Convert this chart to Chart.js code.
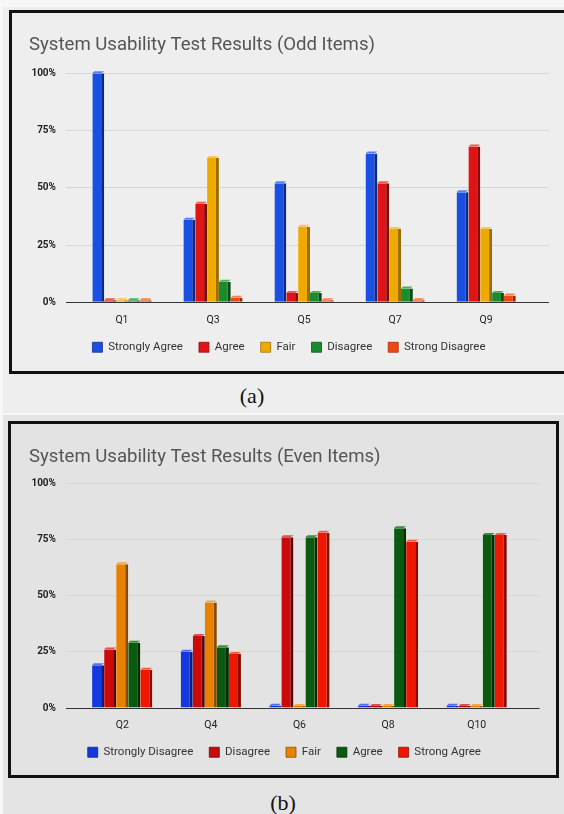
<!DOCTYPE html>
<html>
<head>
<meta charset="utf-8">
<script src="https://cdn.jsdelivr.net/npm/chart.js@4.4.1/dist/chart.umd.min.js"></script>
<style>
  body { margin:0; background:#f7f7f7; width:564px; height:814px; position:relative; overflow:hidden; }
  .panel { position:absolute; }
  .box { position:absolute; border:3px solid #111; box-sizing:border-box; }
  canvas { position:absolute; }
  .cap { position:absolute; font-family:'Liberation Serif', serif; font-size:22px; color:#111; transform:translate(-50%,-50%); }
</style>
</head>
<body>
<div class="panel" style="left:3px;top:7px;width:561px;height:406px;background:#eeeeee"></div>
<div class="box" style="left:9px;top:10px;width:600px;height:364px;background:#eeeeee"></div>
<canvas id="oddChart" width="552" height="350" style="left:12px;top:13px"></canvas>
<div class="cap" style="left:252px;top:396px">(a)</div>

<div class="panel" style="left:3px;top:415px;width:561px;height:399px;background:#e4e4e4"></div>
<div class="box" style="left:8px;top:421px;width:551px;height:357px;background:#e3e3e3"></div>
<canvas id="evenChart" width="545" height="344" style="left:11px;top:424px"></canvas>
<div class="cap" style="left:283px;top:803px">(b)</div>

<script>
// Odd items (a)
const oddLabels = ['Q1', 'Q3', 'Q5', 'Q7', 'Q9'];
const oddSeries = ['Strongly Agree', 'Agree', 'Fair', 'Disagree', 'Strong Disagree'];
const stronglyAgreeOdd = [100, 36, 52, 65, 48];
const agreeOdd = [0, 43, 4, 52, 68];
const fairOdd = [0, 63, 33, 32, 32];
const disagreeOdd = [0, 9, 4, 6, 4];
const strongDisagreeOdd = [0, 2, 0, 0, 3];

// Even items (b)
const evenLabels = ['Q2', 'Q4', 'Q6', 'Q8', 'Q10'];
const evenSeries = ['Strongly Disagree', 'Disagree', 'Fair', 'Agree', 'Strong Agree'];
const stronglyDisagreeEven = [19, 25, 1, 1, 1];
const disagreeEven = [26, 32, 76, 0, 0];
const fairEven = [64, 47, 0, 0, 0];
const agreeEven = [29, 27, 76, 80, 77];
const strongAgreeEven = [17, 24, 78, 74, 77];

const percentTicks = [0, 25, 50, 75, 100];

Chart.defaults.font.family = 'Roboto';

// lighter top face so the bars look a bit 3D like the sheets chart
const barTops = {
    id: 'barTops',
    afterDatasetsDraw(chart) {
        const ctx = chart.ctx;
        chart.data.datasets.forEach((ds, k) => {
            chart.getDatasetMeta(k).data.forEach((bar) => {
                const left = bar.x - bar.width / 2;
                const right = bar.x + bar.width / 2;
                ctx.save();
                ctx.fillStyle = ds.topColor;
                ctx.beginPath();
                ctx.moveTo(left, bar.y);
                ctx.lineTo(right - 3, bar.y);
                ctx.lineTo(right, bar.y - 2);
                ctx.lineTo(left + 2, bar.y - 2);
                ctx.closePath();
                ctx.fill();
                ctx.restore();
            });
        });
    }
};

function makeChart(id, title, labels, names, values, colors, sides, tops, geo) {
    const datasets = names.map((name, k) => ({
        label: name,
        data: values[k].map((v, i) => ({ x: i, y: v })),
        backgroundColor: colors[k],
        borderColor: sides[k],
        topColor: tops[k],
        borderWidth: { top: 0, right: 3, bottom: 0, left: 0 },
        minBarLength: 2,
        barPercentage: 1,
        categoryPercentage: geo.catPct
    }));

    return new Chart(document.getElementById(id), {
        type: 'bar',
        data: { datasets: datasets },
        plugins: [barTops],
        options: {
            responsive: false,
            animation: false,
            layout: { padding: { left: geo.padL, right: geo.padR, top: 0, bottom: 0 } },
            plugins: {
                title: {
                    display: true,
                    text: title,
                    align: 'start',
                    color: '#555',
                    font: { size: 18.6, weight: 'normal' },
                    padding: { top: geo.titleTop, bottom: geo.titleBottom }
                },
                legend: {
                    position: 'bottom',
                    labels: {
                        boxWidth: 10,
                        boxHeight: 10,
                        padding: 16,
                        color: '#333',
                        font: { size: 11.5 }
                    }
                },
                tooltip: { enabled: false }
            },
            scales: {
                x: {
                    type: 'linear',
                    offset: false,
                    min: geo.xMin,
                    max: geo.xMax,
                    grid: { display: false, drawTicks: false },
                    border: { display: false },
                    afterBuildTicks: (scale) => { scale.ticks = labels.map((l, i) => ({ value: i })); },
                    afterFit: (scale) => { scale.height = geo.xHeight; },
                    ticks: {
                        autoSkip: false,
                        maxRotation: 0,
                        padding: geo.xPad,
                        color: '#222',
                        font: { size: 10.5, lineHeight: 1 },
                        callback: (v) => labels[v]
                    }
                },
                y: {
                    min: 0,
                    max: 100,
                    afterBuildTicks: (scale) => { scale.ticks = percentTicks.map(v => ({ value: v })); },
                    afterFit: (scale) => { scale.width = geo.yWidth; },
                    grid: {
                        drawTicks: false,
                        color: (c) => (c.tick && c.tick.value === 0 ? '#333' : '#d6d6d6')
                    },
                    border: { display: false },
                    ticks: {
                        padding: 9.5,
                        color: '#222',
                        font: { size: 10, weight: 'bold' },
                        callback: (v) => v + '%'
                    }
                }
            }
        }
    });
}

makeChart('oddChart', 'System Usability Test Results (Odd Items)', oddLabels, oddSeries,
    [stronglyAgreeOdd, agreeOdd, fairOdd, disagreeOdd, strongDisagreeOdd],
    ['#1a4fe3', '#e01414', '#efaa00', '#1b8c2e', '#f24810'],
    ['#0b2a86', '#850a0a', '#9a6d00', '#0b4a17', '#9a2806'],
    ['#5a82ee', '#ec5a5a', '#f6c850', '#4fb060', '#f78050'],
    { padL: 17, padR: 15, yWidth: 36.5, titleTop: 21, titleBottom: 17, xMin: -0.62, xMax: 4.69,
      catPct: 0.65, xHeight: 23.25, xPad: 12.75 });

makeChart('evenChart', 'System Usability Test Results (Even Items)', evenLabels, evenSeries,
    [stronglyDisagreeEven, disagreeEven, fairEven, agreeEven, strongAgreeEven],
    ['#1438e0', '#cc0a0a', '#e88000', '#0a5a10', '#ee1800'],
    ['#0a1e80', '#5a0505', '#8a4a00', '#042a06', '#8a0c00'],
    ['#5570ea', '#dc5050', '#f0a848', '#3a8a40', '#f46048'],
    { padL: 18, padR: 16.4, yWidth: 36.5, titleTop: 22, titleBottom: 15, xMin: -0.64, xMax: 4.71,
      catPct: 0.68, xHeight: 22.5, xPad: 12 });
</script>
</body>
</html>
